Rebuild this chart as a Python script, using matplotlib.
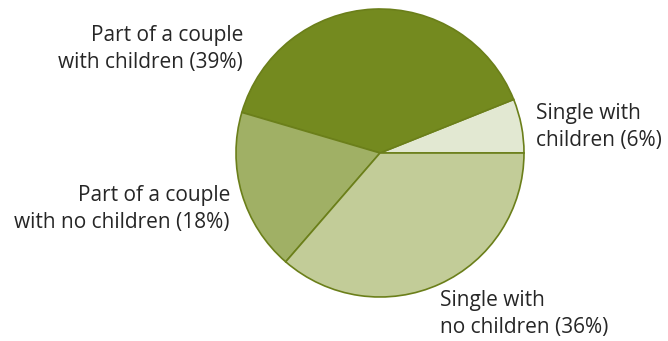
import matplotlib
matplotlib.use("Agg")
import matplotlib.pyplot as plt

categories = ["Single with\nchildren", "Part of a couple\nwith children",
              "Part of a couple\nwith no children", "Single with\nno children"]
values = [6, 39, 18, 36]
colors = ["#e2e8d2", "#748a1f", "#a0b065", "#c2cc98"]

W, H = 668, 341
fig = plt.figure(figsize=(W / 100, H / 100), dpi=100)
ax = fig.add_axes([0, 0, 1, 1])
ax.set_xlim(0, W)
ax.set_ylim(0, H)
ax.set_aspect("equal")
ax.axis("off")

ax.pie(values, colors=colors, startangle=0, counterclock=True,
       center=(380, H - 153), radius=144, frame=True,
       wedgeprops=dict(edgecolor="#6b7f1a", linewidth=1.2))
ax.set_xlim(0, W)
ax.set_ylim(0, H)
ax.axis("off")

label_pos = [(536, 127, "left"), (243, 49, "right"), (230, 209, "right"), (440, 314, "left")]
for cat, v, (x, y, ha) in zip(categories, values, label_pos):
    ax.text(x, H - y, f"{cat} ({v}%)", ha=ha, va="center", fontsize=15,
            family="Open Sans", color="#262626", linespacing=1.42)

fig.savefig("out.png", dpi=100)
